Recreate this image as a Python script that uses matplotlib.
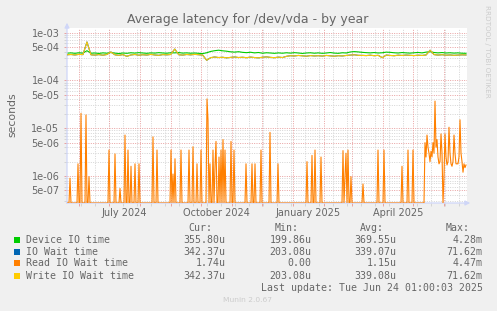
import numpy as np
import matplotlib
matplotlib.use("Agg")
import matplotlib.pyplot as plt
from matplotlib.ticker import FixedLocator, NullFormatter
from matplotlib.patches import Rectangle
from datetime import datetime, timedelta

# ---------------- data ----------------
title = "Average latency for /dev/vda - by year"
end_time = datetime(2025, 6, 24, 1, 0, 3)
n_days = 400

# Device IO time (microseconds), sampled evenly across the 400 days
device_us = [372, 378, 370, 380, 374, 420, 372, 376, 368, 378,
             372, 385, 374, 366, 376, 370, 380, 374, 382, 376,
             370, 378, 374, 382, 376, 372, 380, 378, 384, 374,
             378, 372, 376, 370, 365, 380, 405, 420, 430, 418,
             410, 398, 392, 400, 388, 382, 390, 378, 385, 372,
             380, 376, 370, 378, 372, 380, 374, 382, 376, 368,
             376, 380, 372, 378, 370, 376, 384, 374, 370, 380,
             376, 395, 402, 396, 388, 382, 378, 384, 376, 380,
             392, 388, 380, 376, 384, 378, 374, 380, 386, 378,
             392, 400, 385, 378, 384, 376, 380, 374, 378, 372, 370]

# Write IO wait time (microseconds)
write_us = [345, 350, 342, 352, 348, 640, 345, 340, 348, 338,
            350, 395, 345, 336, 348, 320, 342, 350, 338, 346,
            340, 352, 342, 336, 348, 344, 350, 455, 346, 340,
            350, 344, 352, 346, 340, 265, 300, 310, 302, 306,
            298, 304, 310, 302, 306, 300, 308, 302, 298, 306,
            312, 304, 300, 308, 302, 320, 330, 326, 334, 328,
            322, 332, 326, 330, 324, 334, 328, 322, 330, 326,
            334, 340, 345, 336, 335, 332, 338, 330, 336, 300,
            340, 334, 330, 338, 334, 340, 336, 332, 338, 334,
            342, 430, 348, 340, 346, 338, 342, 336, 340, 344, 342]

# IO wait time is practically identical to write wait time
iowait_us = list(write_us)

# Read IO wait time: non-zero days (day index from start) and values (us)
read_days = [3, 11, 14, 19, 22, 42, 48, 53, 58, 61, 64, 68, 72, 86, 90,
             104, 106, 108, 114, 122, 126, 130, 134, 140, 141, 143, 146,
             148, 149, 152, 154, 156, 158, 164, 167, 179, 185, 188, 194,
             203, 211, 240, 245, 248, 254, 276, 278, 279, 281, 284, 296,
             311, 317, 335, 341, 346,
             358, 359, 360, 361, 362, 363, 364, 365, 366, 367, 368, 369,
             370, 371, 372, 373, 374, 375, 377, 378, 379, 380, 381, 382,
             383, 384, 385, 386, 387, 388, 389, 390, 391, 392, 393, 394,
             395, 396, 397, 398, 399]
read_vals = [0.9, 1.8, 20.5, 19.0, 0.97, 3.5, 2.9, 0.55, 7.2, 3.5, 1.6,
             1.8, 1.8, 6.6, 3.5, 3.5, 1.1, 2.3, 3.5, 3.5, 4.1, 1.8, 3.5,
             41.0, 15.0, 1.8, 3.5, 1.6, 5.3, 2.5, 3.5, 5.8, 3.5, 5.3, 3.5,
             1.8, 1.8, 1.8, 3.5, 8.2, 1.8, 2.0, 2.7, 3.5, 2.5, 3.4, 0.97,
             3.0, 3.5, 0.97, 0.68, 3.5, 3.5, 1.6, 3.5, 3.5,
             5.0, 2.5, 7.2, 4.0, 3.0, 2.0, 3.3, 2.5, 5.0, 3.0, 37.0, 4.0,
             5.8, 2.5, 1.8, 2.0, 7.6, 3.0, 0.97, 7.6, 2.5, 1.7, 2.0, 10.5,
             3.0, 1.8, 1.6, 2.0, 7.2, 3.0, 1.8, 1.8, 1.8, 2.5, 15.0, 3.0,
             2.0, 1.2, 1.8, 1.5, 1.7]

series_names = ["Device IO time", "IO Wait time", "Read IO Wait time", "Write IO Wait time"]
series_colors = ["#00CC00", "#0066B3", "#FF8000", "#FFCC00"]
stat_cur = ["355.80u", "342.37u", "1.74u", "342.37u"]
stat_min = ["199.86u", "203.08u", "0.00", "203.08u"]
stat_avg = ["369.55u", "339.07u", "1.15u", "339.08u"]
stat_max = ["4.28m", "71.62m", "4.47m", "71.62m"]

ytick_vals = [1e-3, 5e-4, 1e-4, 5e-5, 1e-5, 5e-6, 1e-6, 5e-7]
ytick_labels = ["1e-03", "5e-04", "1e-04", "5e-05", "1e-05", "5e-06", "1e-06", "5e-07"]
xlabel_dates = [datetime(2024, 7, 16), datetime(2024, 10, 16), datetime(2025, 1, 16), datetime(2025, 4, 16)]
xlabel_text = ["July 2024", "October 2024", "January 2025", "April 2025"]

# ---------------- figure ----------------
W, H = 497, 311
FONT = "#666666"
fig = plt.figure(figsize=(W / 100, H / 100), dpi=100, facecolor="#F0F0F0")
L, R, T, B = 67, 467, 28, 203
ax = fig.add_axes([L / W, 1 - B / H, (R - L) / W, (B - T) / H])
ax.set_facecolor("white")

start = end_time - timedelta(days=n_days)
def dx(d):
    return (d - start).total_seconds() / 86400.0

ybot, ytop = 10 ** -6.565, 10 ** -2.9016
ax.set_yscale("log")
ax.set_xlim(0, n_days)
ax.set_ylim(ybot, ytop)

# grid
red = "#E8A0A0"
gray = "#D4D4D4"
dot = (0, (1, 1.4))
month_starts = []
m = datetime(start.year, start.month, 1)
while m < end_time:
    if m > start:
        month_starts.append(dx(m))
    m = datetime(m.year + (m.month // 12), m.month % 12 + 1, 1)
biweek = []
d = datetime(2024, 5, 20)
while d < end_time:
    if d > start:
        biweek.append(dx(d))
    d += timedelta(days=14)
for xv in biweek:
    ax.axvline(xv, color=gray, lw=0.7, ls=dot, zorder=1)
for xv in month_starts:
    ax.axvline(xv, color=red, lw=0.7, ls=dot, zorder=1.1)
minor_y = []
major_y = []
for e in range(-7, -2):
    for k in range(1, 10):
        v = k * 10.0 ** e
        if ybot <= v <= ytop:
            (major_y if k in (1, 5) else minor_y).append(v)
for yv in minor_y:
    ax.axhline(yv, color=gray, lw=0.7, ls=dot, zorder=1)
for yv in major_y:
    ax.axhline(yv, color=red, lw=0.7, ls=dot, zorder=1.1)

# series
xs_dense = np.linspace(0, n_days - 1, len(device_us))
ax.plot(xs_dense, np.array(device_us) * 1e-6, color=series_colors[0], lw=0.8, zorder=3)
ax.plot(xs_dense, np.array(iowait_us) * 1e-6, color=series_colors[1], lw=0.8, zorder=4)
read = np.zeros(n_days)
read[np.array(read_days)] = np.array(read_vals) * 1e-6
read_plot = np.where(read > 0, read, ybot)
ax.plot(np.arange(n_days), read_plot, color=series_colors[2], lw=0.8, zorder=5)
ax.plot(xs_dense, np.array(write_us) * 1e-6, color=series_colors[3], lw=0.8, zorder=6)

# ticks
ax.set_yticks(ytick_vals)
ax.set_yticklabels(ytick_labels)
ax.yaxis.set_minor_locator(FixedLocator(minor_y))
ax.yaxis.set_minor_formatter(NullFormatter())
ax.set_xticks(month_starts)
ax.set_xticklabels([])
ax.xaxis.set_minor_locator(FixedLocator(biweek))
ax.tick_params(axis="both", which="major", length=2, width=0.7, color=red,
               labelsize=7, labelcolor=FONT, pad=3.5)
ax.tick_params(axis="both", which="minor", length=2, width=0.7, color=gray)
for xd, txt in zip(xlabel_dates, xlabel_text):
    ax.text(dx(xd), -0.055, txt, transform=ax.get_xaxis_transform(),
            ha="center", va="center", fontsize=7, color=FONT)
for s in ["top", "right", "left", "bottom"]:
    ax.spines[s].set_visible(False)

# axes with arrows
axis_col = "#CFD6F8"
ax.annotate("", xy=(L, H - 20), xytext=(L, H - B - 3), xycoords="figure pixels",
            textcoords="figure pixels",
            arrowprops=dict(arrowstyle="-|>", color=axis_col, lw=0.9, mutation_scale=7))
ax.annotate("", xy=(R + 6, H - B), xytext=(L - 3, H - B), xycoords="figure pixels",
            textcoords="figure pixels",
            arrowprops=dict(arrowstyle="-|>", color=axis_col, lw=0.9, mutation_scale=7))

# texts
def ft(x, y, s, **kw):
    fig.text(x / W, 1 - y / H, s, **kw)

ft(248, 19, title, ha="center", va="center", fontsize=9, color=FONT)
ft(12, 115, "seconds", ha="center", va="center", rotation=90, fontsize=7.8, color=FONT)
ft(487, 5, "RRDTOOL / TOBI OETIKER", ha="center", va="top", rotation=270,
   fontsize=5.2, color="#CCCCCC")

mono = dict(family="DejaVu Sans Mono", fontsize=7.1, color=FONT, va="center")
ft(212.7, 228, "Cur:", ha="right", **mono)
ft(299, 228, "Min:", ha="right", **mono)
ft(384, 228, "Avg:", ha="right", **mono)
ft(470, 228, "Max:", ha="right", **mono)
rows_y = [240, 251.7, 263.3, 275.7]
for i, yy in enumerate(rows_y):
    fig.patches.append(Rectangle(((14) / W, 1 - (yy + 3) / H), 6 / W, 6 / H,
                                 transform=fig.transFigure, facecolor=series_colors[i],
                                 edgecolor="none"))
    ft(26, yy, series_names[i], ha="left", **mono)
    ft(225.7, yy, stat_cur[i], ha="right", **mono)
    ft(311.7, yy, stat_min[i], ha="right", **mono)
    ft(396.7, yy, stat_avg[i], ha="right", **mono)
    ft(482.7, yy, stat_max[i], ha="right", **mono)
ft(482.7, 287.7, "Last update: Tue Jun 24 01:00:03 2025", ha="right", **mono)
ft(247.5, 300, "Munin 2.0.67", ha="center", va="center", fontsize=5.4, color="#CCCCCC")

fig.savefig("out.png", dpi=100, facecolor=fig.get_facecolor())
